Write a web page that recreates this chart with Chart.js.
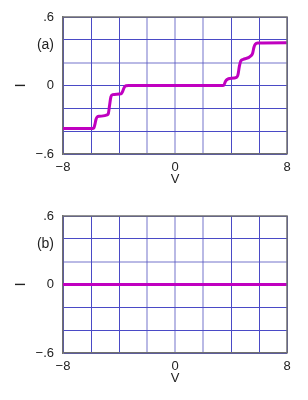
<!DOCTYPE html>
<html>
<head>
<meta charset="utf-8">
<script src="https://cdn.jsdelivr.net/npm/chart.js@4/dist/chart.umd.min.js"></script>
<style>
  html, body { margin: 0; padding: 0; background: #fff; }
  .panel { position: absolute; left: 0; width: 308px; height: 200px; }
  #pa { top: 0; }
  #pb { top: 199px; }
</style>
</head>
<body>
<div class="panel" id="pa"><canvas id="ca" width="308" height="200"></canvas></div>
<div class="panel" id="pb"><canvas id="cb" width="308" height="200"></canvas></div>
<script>
// ---- data ----
const panelLabels = ['(a)', '(b)'];
const xTickLabels = { '-8': '\u22128', '0': '0', '8': '8' };
const yTickLabels = { '0.6': '.6', '0': '0', '-0.6': '\u2212.6' };

// Panel (a): current I vs voltage V (staircase)
const vA = [-8, -5.9, -5.8, -5.72, -5.64, -5.55, -5.4, -4.85, -4.76, -4.68, -4.58, -4.45, -3.85, -3.75, -3.62, -3.5, -3.3,
            3.4, 3.5, 3.62, 3.75, 3.9, 4.4, 4.5, 4.6, 4.7, 4.85, 5.45, 5.55, 5.64, 5.74, 5.9, 8];
const iA = [-0.377, -0.377, -0.372, -0.34, -0.295, -0.275, -0.27, -0.258, -0.245, -0.18, -0.1, -0.08, -0.072, -0.055, -0.015, -0.002, 0,
            0, 0.005, 0.04, 0.055, 0.062, 0.072, 0.095, 0.17, 0.215, 0.228, 0.262, 0.285, 0.335, 0.362, 0.372, 0.374];

// Panel (b): flat current
const vB = [-8, 8];
const iB = [0, 0];

// grid lines that look softer/wider in the original
const softX = [-2, 0, 2];
const softY = [0.2];

// ---- chart builder ----
const GRID = '#4a4ac6';
const GRID_SOFT = 'rgba(80,80,190,0.4)';
const FRAME = '#707070';
const FONT = "'Liberation Sans', Arial, Helvetica, sans-serif";

const isSoft = (list, c) => c.tick && list.some(v => Math.abs(v - c.tick.value) < 1e-9);

const framePlugin = {
  id: 'frameBox',
  afterDatasetsDraw(chart) {
    const { ctx, chartArea: a } = chart;
    ctx.save();
    ctx.strokeStyle = FRAME;
    ctx.lineWidth = 1.5;
    ctx.beginPath();
    ctx.moveTo(a.left, a.top);
    ctx.lineTo(a.right, a.top);
    ctx.lineTo(a.right, a.bottom);
    ctx.stroke();
    ctx.restore();
  }
};

const panelLabelPlugin = {
  id: 'panelLabel',
  afterDraw(chart, args, opts) {
    const ctx = chart.ctx;
    const y = chart.scales.y.getPixelForValue(opts.at);
    ctx.save();
    ctx.font = '14px ' + FONT;
    ctx.fillStyle = '#222';
    ctx.textAlign = 'right';
    ctx.textBaseline = 'middle';
    ctx.fillText(opts.text, 54, y);
    ctx.restore();
  }
};

function makeChart(id, xs, ys, label) {
  const pts = xs.map((x, k) => ({ x: x, y: ys[k] }));
  return new Chart(document.getElementById(id), {
    type: 'line',
    data: { datasets: [{
      data: pts,
      borderColor: '#c000c0',
      borderWidth: 3,
      pointRadius: 0,
      cubicInterpolationMode: 'monotone',
      fill: false
    }]},
    options: {
      responsive: false,
      animation: false,
      events: [],
      layout: { padding: { left: 0, right: 21, top: 17, bottom: 0 } },
      plugins: {
        legend: { display: false },
        tooltip: { enabled: false },
        panelLabel: { text: label, at: 0.355 }
      },
      scales: {
        x: {
          type: 'linear', min: -8, max: 8,
          afterFit(s) { s.height = 46; },
          border: { display: true, color: FRAME, width: 1.5 },
          grid: {
            drawTicks: false,
            lineWidth: c => isSoft(softX, c) ? 2 : 1,
            color: c => isSoft(softX, c) ? GRID_SOFT : GRID
          },
          ticks: {
            stepSize: 2, padding: 6, maxRotation: 0, autoSkip: false,
            color: '#222', font: { family: FONT, size: 13 },
            callback: v => { const k = String(Math.round(v * 100) / 100); return k in xTickLabels ? xTickLabels[k] : ''; }
          },
          title: { display: true, text: 'V', color: '#222', font: { family: FONT, size: 13 }, padding: { top: 0, bottom: 13 } }
        },
        y: {
          type: 'linear', min: -0.6, max: 0.6,
          afterFit(s) { s.width = 63; },
          border: { display: true, color: FRAME, width: 1.5 },
          grid: {
            drawTicks: false,
            lineWidth: c => isSoft(softY, c) ? 2 : 1,
            color: c => isSoft(softY, c) ? GRID_SOFT : GRID
          },
          ticks: {
            stepSize: 0.2, padding: 9, autoSkip: false,
            color: '#222', font: { family: FONT, size: 13 },
            callback: v => { const k = String(Math.round(v * 100) / 100); return k in yTickLabels ? yTickLabels[k] : ''; }
          },
          title: { display: true, text: 'I', color: '#222', font: { family: FONT, size: 15 }, padding: { top: 12, bottom: 0 } }
        }
      }
    },
    plugins: [framePlugin, panelLabelPlugin]
  });
}

makeChart('ca', vA, iA, panelLabels[0]);
makeChart('cb', vB, iB, panelLabels[1]);
</script>
</body>
</html>
